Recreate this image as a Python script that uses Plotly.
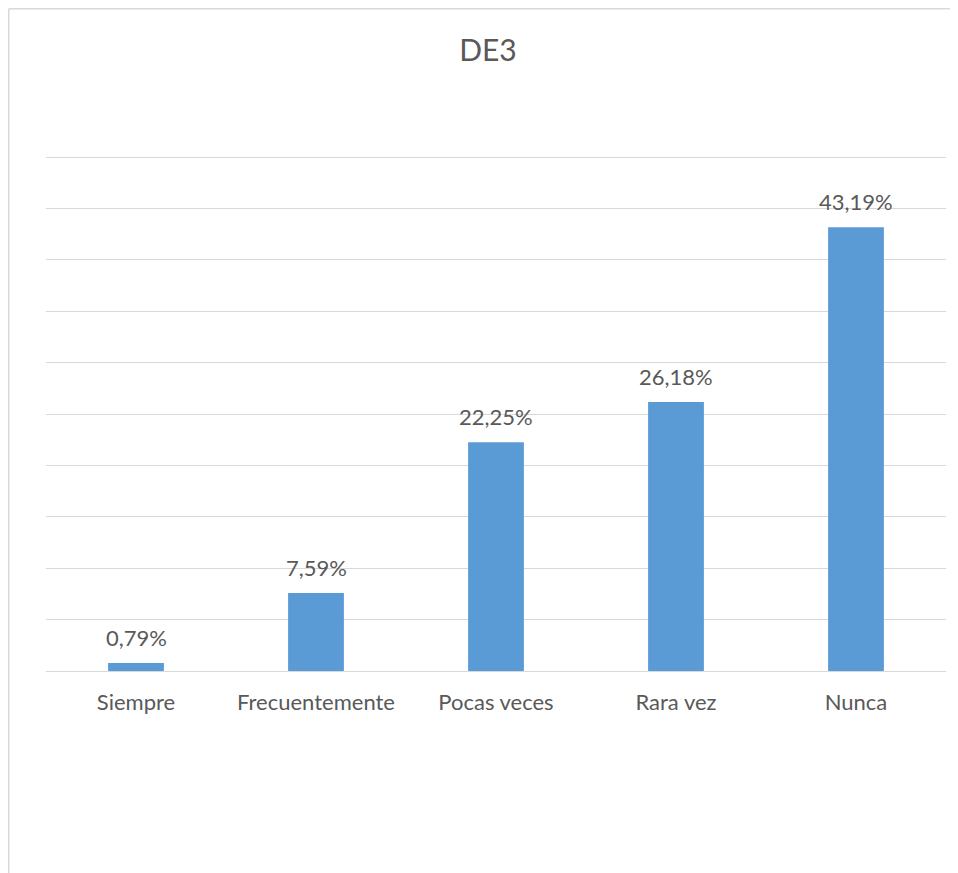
import plotly.graph_objects as go

categories = ["Siempre", "Frecuentemente", "Pocas veces", "Rara vez", "Nunca"]
values = [0.79, 7.59, 22.25, 26.18, 43.19]
title_text = "DE3"

# page has an 8px body margin; figure coordinates are page coordinates minus 8
OFF = 8
W, H = 958 - OFF, 873 - OFF
ml, mr, mt, mb = 46 - OFF, 12, 152 - OFF, 202
pw = W - ml - mr
ph = H - mt - mb

def px_x(x):
    return (x - ml) / pw

def px_y(y):
    return (H - mb - y) / ph

FONT = "Lato"
GREY = "#595959"
border = "#D9D9D9"

fig = go.Figure(go.Bar(
    x=categories, y=values,
    marker=dict(color="#5B9BD5", line=dict(width=0)),
    cliponaxis=False, hoverinfo="skip",
))

annotations = [
    dict(x=c, y=v, xref="x", yref="y", text=f"{v:.2f}%".replace(".", ","),
         showarrow=False, yanchor="bottom", yshift=10,
         font=dict(family=FONT, size=22, color=GREY))
    for c, v in zip(categories, values)
]

fig.update_layout(
    width=W, height=H,
    margin=dict(l=ml, r=mr, t=mt, b=mb),
    paper_bgcolor="white", plot_bgcolor="white",
    bargap=0.69,
    showlegend=False,
    title=dict(text=title_text, x=(488 - OFF) / W, xanchor="center", y=1 - (50 - OFF) / H,
               yanchor="middle", font=dict(family=FONT, size=30, color=GREY)),
    xaxis=dict(showgrid=False, showline=False, ticks="", zeroline=False,
               tickfont=dict(family=FONT, size=22, color=GREY), ticklabelstandoff=16),
    yaxis=dict(range=[0, 50.5], tickvals=[5, 10, 15, 20, 25, 30, 35, 40, 45, 50],
               showticklabels=False, showgrid=True,
               gridcolor=border, gridwidth=1.3, zeroline=True, zerolinecolor=border,
               zerolinewidth=1.3, showline=False, ticks=""),
    annotations=annotations,
    shapes=[
        dict(type="line", xref="paper", yref="paper", x0=px_x(0.75), x1=px_x(0.75),
             y0=px_y(0.75), y1=px_y(H + 5), line=dict(color=border, width=1.5)),
        dict(type="line", xref="paper", yref="paper", x0=px_x(0.75), x1=px_x(W + 5),
             y0=px_y(0.75), y1=px_y(0.75), line=dict(color=border, width=1.5)),
    ],
)

fig.write_html("out.html")
